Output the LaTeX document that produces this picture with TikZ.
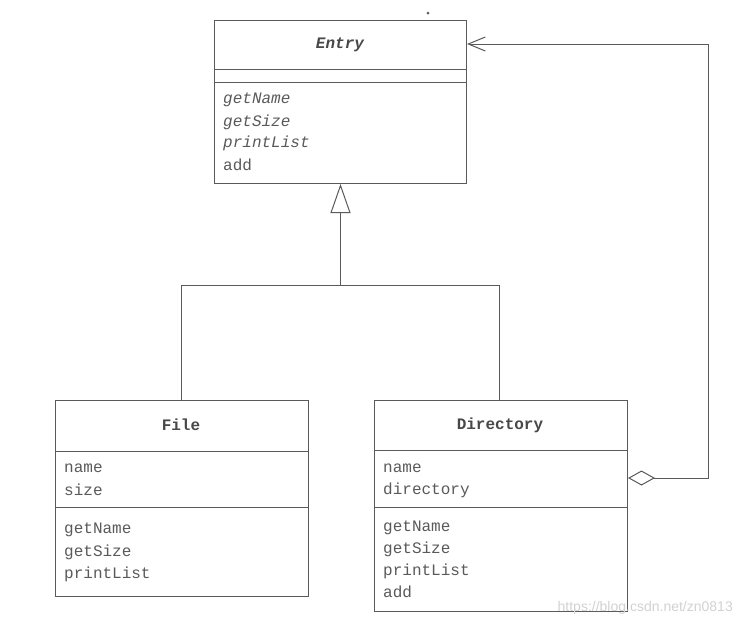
\documentclass[tikz,border=0pt]{standalone}
\usepackage{fontspec}
\setmonofont{Liberation Mono}
\setsansfont{Liberation Sans}
\usetikzlibrary{arrows.meta}
\definecolor{ink}{HTML}{5A5A5A}
\definecolor{wm}{HTML}{D2D2D2}
\tikzset{
  umlbox/.style={draw=ink, line width=1pt, rectangle, anchor=north west, inner sep=0pt},
  sep/.style={draw=ink, line width=1pt},
  conn/.style={draw=ink, line width=1pt},
  ttl/.style={font=\fontsize{16}{16}\selectfont\ttfamily\bfseries, text=ink!80!black, inner sep=0pt},
  ttli/.style={font=\fontsize{16}{16}\selectfont\ttfamily\bfseries\itshape, text=ink!80!black, inner sep=0pt},
  mem/.style={font=\fontsize{16}{16}\selectfont\ttfamily, text=ink, anchor=west, inner sep=0pt},
  memi/.style={font=\fontsize{16}{16}\selectfont\ttfamily\itshape, text=ink, anchor=west, inner sep=0pt},
}
\begin{document}
\begin{tikzpicture}[x=1pt,y=-1pt]
\useasboundingbox (0,0) rectangle (740,625);
\fill[white] (0,0) rectangle (740,625);

% Entry
\node[umlbox, minimum width=252pt, minimum height=163pt] (entry) at (214,20) {};
\draw[sep] (214,69) -- (466,69);
\draw[sep] (214,82) -- (466,82);
\node[ttli] (entryT) at (340,45) {Entry};
\node[memi] (e1) at (223,100) {getName};
\node[memi] (e2) at (223,122) {getSize};
\node[memi] (e3) at (223,143) {printList};
\node[mem] (e4) at (223,165) {add};

% File
\node[umlbox, minimum width=253pt, minimum height=196pt] (file) at (55,400) {};
\draw[sep] (55,451) -- (308,451);
\draw[sep] (55,507) -- (308,507);
\node[ttl] (fileT) at (181,425) {File};
\node[mem] (f1) at (64,468) {name};
\node[mem] (f2) at (64,490) {size};
\node[mem] (f3) at (64,530) {getName};
\node[mem] (f4) at (64,552) {getSize};
\node[mem] (f5) at (64,574) {printList};

% Directory
\node[umlbox, minimum width=253pt, minimum height=211pt] (dir) at (374,400) {};
\draw[sep] (374,450) -- (627,450);
\draw[sep] (374,507) -- (627,507);
\node[ttl] (dirT) at (500,425) {Directory};
\node[mem] (d1) at (383,468) {name};
\node[mem] (d2) at (383,490) {directory};
\node[mem] (d3) at (383,528) {getName};
\node[mem] (d4) at (383,549) {getSize};
\node[mem] (d5) at (383,571) {printList};
\node[mem] (d6) at (383,592) {add};

% Inheritance
\coordinate (j) at (entry.south |- 0,285);
\coordinate (jf) at (181,285);
\coordinate (jd) at (499,285);
\draw[conn, -{Triangle[open,length=29pt,width=20pt,line width=1pt]}] (j) -- (entry.south);
\draw[conn] (file.north -| jf) -- (jf) -- (jd) -- (dir.north -| jd);

% Aggregation
\coordinate (a1) at (708,478);
\coordinate (a2) at (708,44);
\draw[conn, {Diamond[open,length=27pt,width=15pt,line width=1pt]}-{Straight Barb[length=17pt,width=14pt,line width=1pt]}]
  (dir.east |- a1) -- (a1) -- (a2) -- (entry.east |- a2);

% small dot
\fill[ink] (428,13) circle (1.5pt);

% watermark
\node[font=\fontsize{14}{14}\selectfont\sffamily, text=wm, anchor=east, inner sep=0pt] (wmk) at (733,608) {https://blog.csdn.net/zn0813};
\end{tikzpicture}
\end{document}
